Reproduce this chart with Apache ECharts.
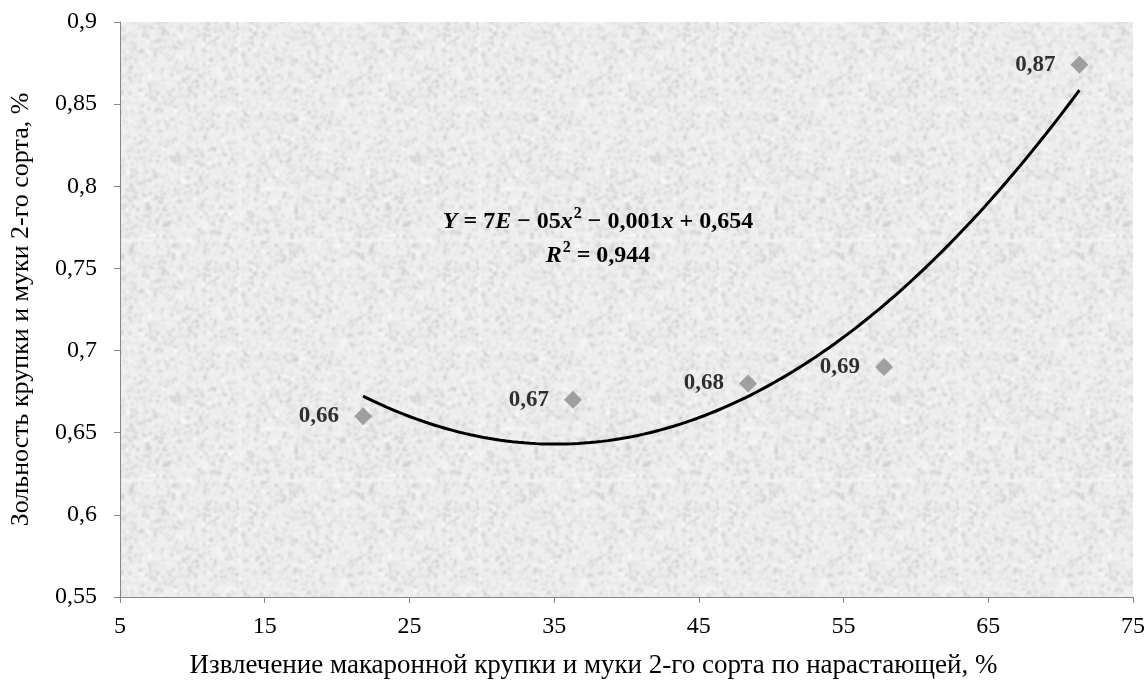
<!DOCTYPE html>
<html>
<head>
<meta charset="utf-8">
<script src="https://cdn.jsdelivr.net/npm/echarts@6/dist/echarts.min.js"></script>
<style>
  html, body { margin: 0; padding: 0; background: #ffffff; }
  #chart { width: 1148px; height: 684px; }
</style>
</head>
<body>
<div id="chart"></div>
<script>
// Извлечение (%) и зольность (%) по точкам отбора
const extraction = [21.8, 36.3, 48.4, 57.8, 71.3];
const ashContent = [0.66, 0.67, 0.68, 0.69, 0.874];

// Шкалы осей
const xTicks = [5, 15, 25, 35, 45, 55, 65, 75];
const yTicks = [0.55, 0.6, 0.65, 0.7, 0.75, 0.8, 0.85, 0.9];

const xAxisTitle = 'Извлечение макаронной крупки и муки 2-го сорта по нарастающей, %';
const yAxisTitle = 'Зольность крупки и муки 2-го сорта, %';
const equationLine = 'Y = 7E − 05x^2 − 0,001x + 0,654';
const rSquaredLine = 'R^2 = 0,944';

const serif = '"Liberation Serif", "Times New Roman", "DejaVu Serif", serif';

function fmt(v) {
  return parseFloat(v.toFixed(2)).toString().replace('.', ',');
}

// Полиномиальный тренд 2-й степени (метод наименьших квадратов)
function quadFit(xs, ys) {
  const n = xs.length;
  let s = [0, 0, 0, 0, 0], t = [0, 0, 0];
  for (let i = 0; i < n; i++) {
    let p = 1;
    for (let k = 0; k < 5; k++) { s[k] += p; if (k < 3) t[k] += p * ys[i]; p *= xs[i]; }
  }
  const M = [
    [s[0], s[1], s[2], t[0]],
    [s[1], s[2], s[3], t[1]],
    [s[2], s[3], s[4], t[2]]
  ];
  for (let c = 0; c < 3; c++) {
    for (let r = c + 1; r < 3; r++) {
      const f = M[r][c] / M[c][c];
      for (let k = c; k < 4; k++) M[r][k] -= f * M[c][k];
    }
  }
  const coef = [0, 0, 0];
  for (let r = 2; r >= 0; r--) {
    let v = M[r][3];
    for (let k = r + 1; k < 3; k++) v -= M[r][k] * coef[k];
    coef[r] = v / M[r][r];
  }
  return coef; // a0 + a1 x + a2 x^2
}

const coef = quadFit(extraction, ashContent);
const xMin = Math.min(...extraction), xMax = Math.max(...extraction);
const trend = [];
for (let i = 0; i <= 120; i++) {
  const x = xMin + (xMax - xMin) * i / 120;
  trend.push([x, coef[0] + coef[1] * x + coef[2] * x * x]);
}

// Зернистая серая заливка области построения
function makeTexture() {
  let seed = 20240917;
  const rnd = () => {
    seed |= 0; seed = seed + 0x6D2B79F5 | 0;
    let t = Math.imul(seed ^ seed >>> 15, 1 | seed);
    t = t + Math.imul(t ^ t >>> 7, 61 | t) ^ t;
    return ((t ^ t >>> 14) >>> 0) / 4294967296;
  };
  const size = 240;
  const raw = document.createElement('canvas');
  raw.width = raw.height = size;
  const c = raw.getContext('2d');
  c.fillStyle = '#efefef';
  c.fillRect(0, 0, size, size);
  for (let i = 0; i < 8000; i++) {
    const g = Math.round(198 + rnd() * 57);
    c.fillStyle = 'rgb(' + g + ',' + g + ',' + g + ')';
    const w = 1 + Math.floor(rnd() * 3), h = 1 + Math.floor(rnd() * 3);
    const x = Math.floor(rnd() * size), y = Math.floor(rnd() * size);
    c.fillRect(x, y, w, h);
    if (x + w > size) c.fillRect(x - size, y, w, h);
    if (y + h > size) c.fillRect(x, y - size, w, h);
  }
  const out = document.createElement('canvas');
  out.width = out.height = size;
  const o = out.getContext('2d');
  o.filter = 'blur(0.8px)';
  for (let dx = -1; dx <= 1; dx++)
    for (let dy = -1; dy <= 1; dy++)
      o.drawImage(raw, dx * size, dy * size);
  return out;
}

const chart = echarts.init(document.getElementById('chart'), null, { renderer: 'canvas' });

const axisLine = { show: true, lineStyle: { color: '#868686', width: 1 } };

// Уравнение тренда: курсив для Y, E, x, R; верхний индекс для степени
const eqRich = {
  b: { fontFamily: serif, fontSize: 24, fontWeight: 'bold', color: '#000' },
  i: { fontFamily: serif, fontSize: 24, fontWeight: 'bold', fontStyle: 'italic', color: '#000' },
  s: { fontFamily: serif, fontSize: 16, fontWeight: 'bold', color: '#000', verticalAlign: 'top', padding: [1, 0, 0, 1] }
};
function richify(s) {
  let out = '';
  for (let k = 0; k < s.length; k++) {
    const ch = s[k];
    if (ch === '^') { out += '{s|' + s[k + 1] + '}'; k++; continue; }
    out += /[YExR]/.test(ch) ? '{i|' + ch + '}' : '{b|' + ch + '}';
  }
  return out;
}

chart.setOption({
  animation: false,
  backgroundColor: '#ffffff',
  grid: {
    left: 118, right: 15, top: 22, bottom: 85,
    show: true,
    borderWidth: 0,
    backgroundColor: { image: makeTexture(), repeat: 'repeat' }
  },
  xAxis: {
    type: 'value',
    min: xTicks[0], max: xTicks[xTicks.length - 1],
    interval: xTicks[1] - xTicks[0],
    axisLine: axisLine,
    axisTick: { show: true, inside: false, length: 6, lineStyle: { color: '#868686' } },
    splitLine: { show: false },
    axisLabel: {
      margin: 18,
      color: '#000',
      fontFamily: serif,
      fontSize: 24,
      formatter: v => fmt(v)
    },
    name: xAxisTitle,
    nameLocation: 'middle',
    nameGap: 55,
    nameTextStyle: { color: '#000', fontFamily: serif, fontSize: 27, padding: [0, 66, 0, 0] }
  },
  yAxis: {
    type: 'value',
    min: yTicks[0], max: yTicks[yTicks.length - 1],
    interval: 0.05,
    axisLine: axisLine,
    axisTick: { show: true, inside: false, length: 6, lineStyle: { color: '#868686' } },
    splitLine: { show: false },
    axisLabel: {
      margin: 23,
      color: '#000',
      fontFamily: serif,
      fontSize: 24,
      formatter: v => fmt(v)
    },
    name: yAxisTitle,
    nameLocation: 'middle',
    nameGap: 86,
    nameRotate: 90,
    nameTextStyle: { color: '#000', fontFamily: serif, fontSize: 26 }
  },
  series: [
    {
      name: 'trend',
      type: 'line',
      data: trend,
      showSymbol: false,
      smooth: false,
      silent: true,
      lineStyle: { color: '#000000', width: 3 },
      z: 2
    },
    {
      name: 'points',
      type: 'scatter',
      data: extraction.map((x, i) => [x, ashContent[i]]),
      symbol: 'diamond',
      symbolSize: 18,
      itemStyle: { color: '#8c8c8c' },
      label: {
        show: true,
        position: 'left',
        distance: 15,
        color: '#000',
        fontFamily: serif,
        fontWeight: 'bold',
        fontSize: 23,
        formatter: p => fmt(p.value[1])
      },
      z: 3
    }
  ],
  graphic: [
    {
      type: 'text',
      x: 598, y: 205,
      style: {
        text: richify(equationLine) + '\n' + richify(rSquaredLine),
        rich: eqRich,
        align: 'center',
        verticalAlign: 'top',
        lineHeight: 34
      }
    }
  ]
});
</script>
</body>
</html>
